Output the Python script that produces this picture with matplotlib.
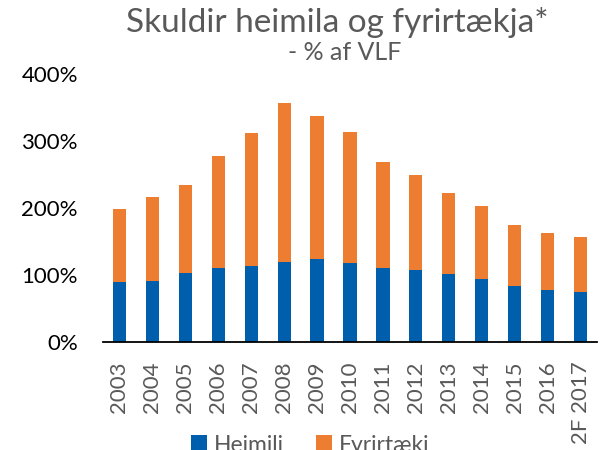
import matplotlib
matplotlib.use("Agg")
import matplotlib.pyplot as plt
from matplotlib.patches import Patch

plt.rcParams['font.family'] = ['Lato', 'DejaVu Sans']

years = ["2003", "2004", "2005", "2006", "2007", "2008", "2009", "2010",
         "2011", "2012", "2013", "2014", "2015", "2016", "2F 2017"]
heimili = [90, 91, 103, 110, 113, 120, 124, 118, 110, 107, 101, 94, 83, 77, 75]
total = [199, 216, 235, 278, 312, 357, 338, 313, 269, 249, 222, 203, 175, 162, 157]
fyrirtaeki = [t - h for t, h in zip(total, heimili)]
yticks = [0, 100, 200, 300, 400]
ytick_labels = ["0%", "100%", "200%", "300%", "400%"]

BLUE = "#005FAD"
ORANGE = "#ED7D31"
GRAY = "#595959"

fig = plt.figure(figsize=(6.10, 4.50), dpi=100)
ax = fig.add_axes([103/610, 108/450, 494/610, 268/450])

x = list(range(len(years)))
ax.bar(x, heimili, width=0.4, color=BLUE, label="Heimili")
ax.bar(x, fyrirtaeki, width=0.4, bottom=heimili, color=ORANGE, label="Fyrirtæki")

ax.set_xlim(-0.5, len(years) - 0.5)
ax.set_ylim(0, 400)
ax.set_yticks(yticks)
ax.set_yticklabels(ytick_labels, fontsize=16, color="black")
ax.set_xticks(x)
ax.set_xticklabels(years, rotation=90, fontsize=16, color=GRAY)
ax.tick_params(axis='x', length=0, pad=14)
ax.tick_params(axis='y', length=0, pad=18)

for s in ["top", "right", "left"]:
    ax.spines[s].set_visible(False)
ax.spines["bottom"].set_color("black")
ax.spines["bottom"].set_linewidth(1.3)

fig.text(337/610, (450-32)/450, "Skuldir heimila og fyrirtækja*", ha="center",
         va="baseline", fontsize=24, color=GRAY)
fig.text(345/610, (450-60)/450, "- % af VLF", ha="center", va="baseline",
         fontsize=18, color=GRAY)

handles = [Patch(facecolor=BLUE, edgecolor="none"), Patch(facecolor=ORANGE, edgecolor="none")]
leg = fig.legend(handles, ["Heimili", "Fyrirtæki"], loc="center",
                 bbox_to_anchor=(310/610, 5/450), ncol=2, frameon=False,
                 fontsize=16.5, handlelength=0.7, handleheight=0.7,
                 handletextpad=0.3, columnspacing=1.4, borderpad=0)
for t in leg.get_texts():
    t.set_color(GRAY)

fig.savefig("out.png", dpi=100)
